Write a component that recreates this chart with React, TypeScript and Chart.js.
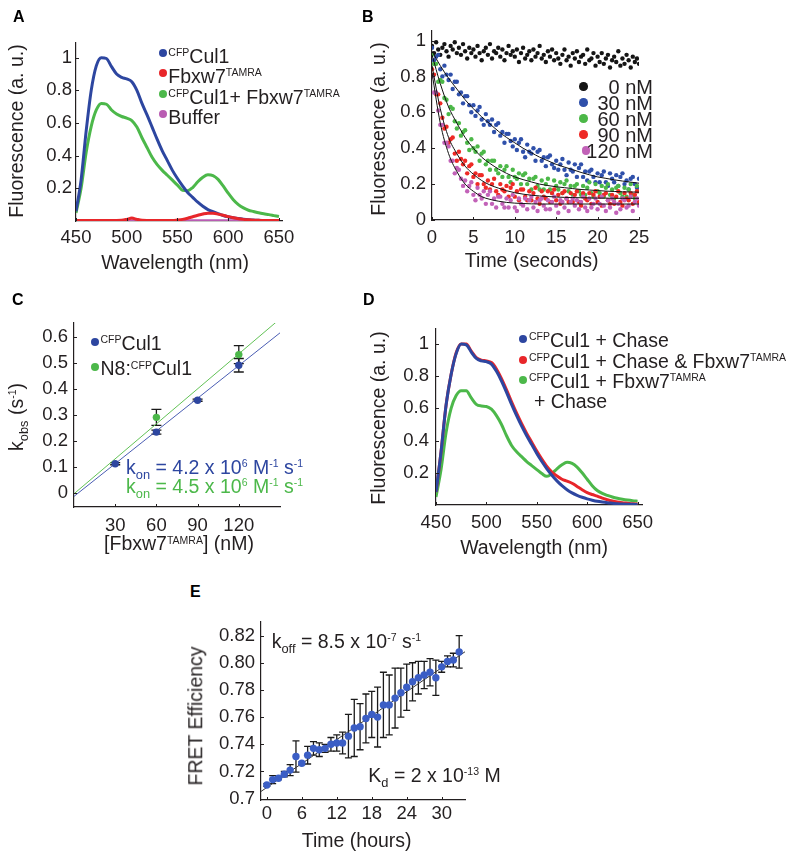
import React, { useEffect, useRef } from 'react';
import { Chart, registerables } from 'chart.js';

Chart.register(...registerables);

const FONT = '"Liberation Sans", Arial, Helvetica, sans-serif';
const INK = '#231f20';
Chart.defaults.font.family = FONT;
Chart.defaults.color = INK;

// ---------------- Panel A / D : emission spectra ----------------
const WAVELENGTH = [450,455,460,465,470,475,480,485,490,495,500,505,510,515,520,525,530,535,540,545,550,555,560,565,570,575,580,585,590,595,600,605,610,615,620,625,630,635,640,645,650];
const A_CFP_CUL1 = [0.06,0.25,0.55,0.80,0.95,1.0,0.995,0.945,0.90,0.88,0.87,0.853,0.80,0.72,0.65,0.575,0.50,0.43,0.37,0.31,0.26,0.215,0.175,0.145,0.115,0.09,0.07,0.057,0.045,0.034,0.026,0.02,0.015,0.011,0.008,0.006,0.004,0.003,0.002,0.001,0.0];
const A_FBXW7 = [0.003,0.003,0.003,0.003,0.003,0.003,0.003,0.003,0.003,0.004,0.01,0.018,0.01,0.004,0.003,0.003,0.003,0.003,0.003,0.003,0.006,0.01,0.017,0.026,0.035,0.043,0.048,0.047,0.042,0.035,0.027,0.02,0.014,0.01,0.007,0.005,0.004,0.003,0.003,0.003,0.003];
const A_CUL1_FBXW7 = [0.05,0.20,0.42,0.58,0.68,0.72,0.715,0.68,0.655,0.64,0.63,0.615,0.575,0.51,0.45,0.39,0.345,0.31,0.28,0.25,0.22,0.188,0.186,0.205,0.24,0.268,0.283,0.278,0.255,0.215,0.17,0.13,0.10,0.08,0.066,0.058,0.05,0.044,0.039,0.033,0.027];
const A_BUFFER = [0.001,0.001,0.001,0.001,0.001,0.001,0.001,0.001,0.001,0.001,0.001,0.001,0.001,0.001,0.001,0.001,0.001,0.001,0.001,0.001,0.001,0.001,0.001,0.001,0.001,0.001,0.001,0.001,0.001,0.001,0.001,0.001,0.001,0.001,0.001,0.001,0.001,0.001,0.001,0.001,0.001];

const D_CHASE = [0.08,0.33,0.62,0.81,0.94,1.0,0.995,0.95,0.91,0.895,0.89,0.875,0.83,0.77,0.70,0.625,0.555,0.49,0.43,0.375,0.32,0.27,0.225,0.185,0.15,0.12,0.095,0.075,0.06,0.048,0.038,0.03,0.023,0.018,0.014,0.011,0.008,0.006,0.005,0.004,0.003];
const D_CHASE_FBXW7 = [0.08,0.33,0.62,0.81,0.945,1.0,1.0,0.955,0.915,0.9,0.895,0.885,0.845,0.785,0.715,0.64,0.57,0.505,0.445,0.39,0.335,0.285,0.24,0.205,0.18,0.16,0.148,0.135,0.115,0.095,0.077,0.065,0.055,0.043,0.033,0.025,0.019,0.014,0.011,0.008,0.006];
const D_FBXW7_THEN_CHASE = [0.05,0.22,0.45,0.60,0.68,0.71,0.71,0.665,0.625,0.615,0.612,0.595,0.555,0.50,0.43,0.37,0.33,0.30,0.27,0.245,0.22,0.195,0.178,0.195,0.225,0.25,0.265,0.258,0.235,0.2,0.16,0.12,0.09,0.072,0.06,0.05,0.042,0.036,0.031,0.027,0.024];

const WL_TICKS = [450, 500, 550, 600, 650];
const WL_LABELS = ['450', '500', '550', '600', '650'];
const FL_TICKS = [0.2, 0.4, 0.6, 0.8, 1];
const FL_LABELS = ['0.2', '0.4', '0.6', '0.8', '1'];

// ---------------- Panel B : stopped-flow traces ----------------
const TIME_B = [0,0.25,0.5,0.75,1,1.25,1.5,1.75,2,2.25,2.5,2.75,3,3.25,3.5,3.75,4,4.25,4.5,4.75,5,5.25,5.5,5.75,6,6.25,6.5,6.75,7,7.25,7.5,7.75,8,8.25,8.5,8.75,9,9.25,9.5,9.75,10,10.25,10.5,10.75,11,11.25,11.5,11.75,12,12.25,12.5,12.75,13,13.25,13.5,13.75,14,14.25,14.5,14.75,15,15.25,15.5,15.75,16,16.25,16.5,16.75,17,17.25,17.5,17.75,18,18.25,18.5,18.75,19,19.25,19.5,19.75,20,20.25,20.5,20.75,21,21.25,21.5,21.75,22,22.25,22.5,22.75,23,23.25,23.5,23.75,24,24.25,24.5,24.75,25];
const B_0NM = [0.97,0.93,0.99,0.95,0.92,0.96,0.98,0.94,0.91,0.97,0.95,0.99,0.93,0.96,0.92,0.98,0.94,0.90,0.96,0.93,
  0.95,0.91,0.97,0.93,0.89,0.94,0.96,0.92,0.98,0.90,0.94,0.93,0.96,0.91,0.95,0.89,0.93,0.97,0.92,0.94,
  0.91,0.95,0.88,0.93,0.96,0.90,0.92,0.94,0.89,0.95,0.91,0.93,0.97,0.90,0.92,0.88,0.94,0.91,0.95,0.89,
  0.93,0.90,0.87,0.92,0.95,0.89,0.91,0.86,0.93,0.90,0.94,0.88,0.91,0.92,0.87,0.95,0.89,0.90,0.93,0.86,
  0.91,0.88,0.93,0.87,0.90,0.92,0.85,0.89,0.91,0.88,0.94,0.86,0.90,0.87,0.92,0.89,0.85,0.91,0.88,0.90,0.87];
const B_30NM = [0.96,0.89,0.91,0.92,0.84,0.80,0.86,0.81,0.78,0.81,0.73,0.77,0.77,0.70,0.71,0.65,0.69,0.69,0.64,0.60,
  0.64,0.58,0.61,0.63,0.56,0.53,0.59,0.55,0.53,0.56,0.49,0.53,0.54,0.47,0.49,0.43,0.48,0.48,0.44,0.41,
  0.45,0.39,0.43,0.45,0.38,0.35,0.42,0.38,0.37,0.40,0.33,0.38,0.39,0.33,0.35,0.30,0.35,0.36,0.31,0.29,
  0.33,0.28,0.31,0.34,0.28,0.25,0.32,0.28,0.27,0.31,0.24,0.29,0.31,0.24,0.27,0.22,0.27,0.28,0.24,0.21,
  0.26,0.21,0.25,0.27,0.21,0.19,0.26,0.23,0.21,0.25,0.19,0.24,0.26,0.20,0.22,0.17,0.23,0.24,0.20,0.18,0.23];
const B_60NM = [0.92,0.87,0.87,0.77,0.78,0.77,0.68,0.67,0.59,0.63,0.62,0.55,0.51,0.54,0.47,0.49,0.50,0.43,0.39,0.45,
  0.40,0.38,0.41,0.33,0.37,0.38,0.31,0.33,0.28,0.33,0.33,0.28,0.26,0.30,0.24,0.28,0.30,0.24,0.21,0.28,
  0.24,0.23,0.26,0.20,0.25,0.26,0.20,0.23,0.17,0.23,0.24,0.19,0.17,0.22,0.17,0.20,0.23,0.17,0.15,0.22,
  0.19,0.17,0.21,0.15,0.20,0.22,0.16,0.19,0.14,0.19,0.20,0.16,0.14,0.19,0.14,0.18,0.21,0.15,0.13,0.20,
  0.16,0.15,0.19,0.13,0.18,0.20,0.14,0.17,0.12,0.18,0.19,0.15,0.13,0.18,0.13,0.17,0.20,0.14,0.12,0.19,0.16];
const B_90NM = [0.84,0.81,0.70,0.70,0.65,0.57,0.51,0.52,0.43,0.45,0.46,0.37,0.33,0.38,0.34,0.31,0.33,0.26,0.30,0.31,
  0.24,0.26,0.20,0.25,0.25,0.20,0.18,0.22,0.17,0.20,0.23,0.16,0.14,0.20,0.17,0.16,0.19,0.13,0.18,0.20,
  0.13,0.16,0.11,0.17,0.17,0.13,0.11,0.16,0.11,0.15,0.18,0.12,0.09,0.16,0.13,0.12,0.16,0.10,0.15,0.17,
  0.11,0.14,0.09,0.15,0.16,0.12,0.10,0.15,0.10,0.14,0.16,0.10,0.08,0.15,0.12,0.11,0.15,0.09,0.14,0.16,
  0.10,0.13,0.08,0.14,0.15,0.11,0.09,0.14,0.09,0.13,0.16,0.10,0.08,0.15,0.12,0.11,0.15,0.09,0.14,0.16,0.10];
const B_120NM = [0.80,0.71,0.71,0.61,0.53,0.53,0.43,0.43,0.41,0.33,0.33,0.26,0.29,0.28,0.23,0.19,0.22,0.16,0.19,0.21,
  0.14,0.11,0.18,0.14,0.12,0.16,0.09,0.14,0.16,0.09,0.12,0.07,0.13,0.13,0.09,0.07,0.12,0.07,0.11,0.14,
  0.07,0.05,0.12,0.09,0.08,0.12,0.06,0.11,0.13,0.07,0.10,0.05,0.11,0.12,0.08,0.06,0.11,0.06,0.10,0.13,
  0.08,0.04,0.11,0.10,0.07,0.12,0.05,0.10,0.12,0.08,0.11,0.06,0.10,0.13,0.07,0.05,0.12,0.07,0.09,0.12,
  0.06,0.09,0.13,0.08,0.05,0.11,0.07,0.12,0.10,0.04,0.09,0.06,0.12,0.11,0.07,0.08,0.13,0.05,0.10,0.12,0.08];
const FIT_TIME_B = [0,1,2,3,4,5,6,7,8,9,10,11,12,13,14,15,16,17,18,19,20,21,22,23,24,25];
const B_FIT_30 = [0.94,0.86,0.79,0.73,0.67,0.62,0.575,0.535,0.495,0.46,0.43,0.40,0.375,0.35,0.33,0.31,0.295,0.28,0.265,0.252,0.24,0.232,0.224,0.217,0.211,0.205];
const B_FIT_60 = [0.92,0.76,0.63,0.54,0.46,0.40,0.35,0.315,0.285,0.26,0.24,0.225,0.212,0.2,0.192,0.185,0.18,0.175,0.17,0.167,0.164,0.161,0.159,0.157,0.156,0.155];
const B_FIT_90 = [0.86,0.62,0.46,0.37,0.30,0.255,0.22,0.195,0.178,0.163,0.152,0.144,0.138,0.134,0.131,0.128,0.126,0.125,0.124,0.123,0.122,0.122,0.121,0.121,0.121,0.121];
const B_FIT_120 = [0.82,0.54,0.37,0.27,0.20,0.16,0.13,0.115,0.105,0.098,0.094,0.092,0.09,0.089,0.089,0.089,0.089,0.089,0.089,0.089,0.089,0.089,0.089,0.089,0.089,0.089];
const B_X_TICKS = [0, 5, 10, 15, 20, 25];
const B_X_LABELS = ['0', '5', '10', '15', '20', '25'];
const B_Y_TICKS = [0, 0.2, 0.4, 0.6, 0.8, 1];
const B_Y_LABELS = ['0', '0.2', '0.4', '0.6', '0.8', '1'];

// ---------------- Panel C : kobs vs concentration ----------------
const C_CONC = [30, 60, 90, 120];
const C_KOBS_CUL1 = [0.112, 0.234, 0.357, 0.492];
const C_ERR_CUL1 = [0.004, 0.008, 0.004, 0.026];
const C_CONC_N8 = [60, 120];
const C_KOBS_N8 = [0.291, 0.533];
const C_ERR_N8 = [0.031, 0.035];
const C_FIT_X = [0, 150];
const C_FIT_CUL1 = [-0.014, 0.617];
const C_FIT_N8 = [-0.004, 0.671];
const C_X_TICKS = [30, 60, 90, 120];
const C_X_LABELS = ['30', '60', '90', '120'];
const C_Y_TICKS = [0, 0.1, 0.2, 0.3, 0.4, 0.5, 0.6];
const C_Y_LABELS = ['0', '0.1', '0.2', '0.3', '0.4', '0.5', '0.6'];

// ---------------- Panel E : FRET over time ----------------
const E_HOURS = [0,1,2,3,4,5,6,7,8,9,10,11,12,13,14,15,16,17,18,19,20,21,22,23,24,25,26,27,28,29,30,31,32,33];
const E_FRET = [0.710,0.714,0.715,0.718,0.721,0.731,0.726,0.732,0.737,0.736,0.737,0.740,0.741,0.741,0.746,0.752,0.753,0.759,0.762,0.760,0.769,0.769,0.774,0.778,0.782,0.786,0.789,0.791,0.793,0.789,0.797,0.801,0.802,0.808];
const E_ERR = [0.001,0.003,0.001,0.002,0.004,0.0115,0.001,0.0065,0.005,0.005,0.003,0.005,0.006,0.008,0.016,0.021,0.017,0.018,0.017,0.022,0.024,0.022,0.022,0.018,0.017,0.014,0.012,0.010,0.010,0.013,0.004,0.004,0.005,0.012];
const E_FIT_X = [-1, 34];
const E_FIT_Y = [0.7053, 0.8081];
const E_X_TICKS = [0, 6, 12, 18, 24, 30];
const E_X_LABELS = ['0', '6', '12', '18', '24', '30'];
const E_Y_TICKS = [0.7, 0.72, 0.74, 0.76, 0.78, 0.8, 0.82];
const E_Y_LABELS = ['0.7', '0.72', '0.74', '0.76', '0.78', '0.80', '0.82'];

// ---------------- colours ----------------
const BLUE = '#2d46a0';
const GREEN = '#4cb84a';
const RED = '#e8262a';
const MAGENTA = '#b95cb2';
const BLUE_E = '#3b5ec5';

const xy = (xs: number[], ys: number[]) => xs.map((x, i) => ({ x, y: ys[i] }));

const lineDs = (data: any[], color: string, width: number) => ({
  data, borderColor: color, backgroundColor: color, borderWidth: width,
  pointRadius: 0, fill: false, cubicInterpolationMode: 'monotone',
});
const dotDs = (data: any[], color: string, r: number) => ({
  data, showLine: false, pointRadius: r, pointBackgroundColor: color,
  pointBorderWidth: 0, borderColor: color, backgroundColor: color,
});

const inwardTicks = {
  id: 'inwardTicks',
  afterDatasetsDraw(chart: any) {
    const { ctx, chartArea: a, scales } = chart;
    ctx.save();
    ctx.strokeStyle = INK;
    ctx.lineWidth = 1;
    scales.x.ticks.forEach((t: any) => {
      const p = Math.round(scales.x.getPixelForValue(t.value)) + 0.5;
      ctx.beginPath(); ctx.moveTo(p, a.bottom); ctx.lineTo(p, a.bottom - 3); ctx.stroke();
    });
    scales.y.ticks.forEach((t: any) => {
      const p = Math.round(scales.y.getPixelForValue(t.value)) + 0.5;
      ctx.beginPath(); ctx.moveTo(a.left, p); ctx.lineTo(a.left + 3, p); ctx.stroke();
    });
    ctx.restore();
  },
};

function errorBars(id: string, sets: { xs: number[]; ys: number[]; errs: number[] }[], cap: number) {
  return {
    id,
    beforeDatasetsDraw(chart: any) {
      const { ctx, scales: { x, y } } = chart;
      ctx.save();
      ctx.strokeStyle = '#1a1a1a';
      ctx.lineWidth = 1.3;
      sets.forEach((s) => s.xs.forEach((xv, i) => {
        const px = x.getPixelForValue(xv);
        const top = y.getPixelForValue(s.ys[i] + s.errs[i]);
        const bot = y.getPixelForValue(s.ys[i] - s.errs[i]);
        ctx.beginPath();
        ctx.moveTo(px, top); ctx.lineTo(px, bot);
        ctx.moveTo(px - cap / 2, top); ctx.lineTo(px + cap / 2, top);
        ctx.moveTo(px - cap / 2, bot); ctx.lineTo(px + cap / 2, bot);
        ctx.stroke();
      }));
      ctx.restore();
    },
  };
}

const L = 60, T = 22, R = 26, B = 42;

function options(o: any) {
  const tickFont = { family: FONT, size: 18.5 };
  return {
    responsive: false,
    maintainAspectRatio: false,
    animation: false,
    events: [],
    layout: { padding: { left: 0, top: T, right: R, bottom: 0 } },
    plugins: { legend: { display: false }, tooltip: { enabled: false } },
    scales: {
      x: {
        type: 'linear', min: o.xMin, max: o.xMax, bounds: 'data',
        afterFit: (s: any) => { s.height = B; },
        afterBuildTicks: (s: any) => { s.ticks = o.xTicks.map((v: number) => ({ value: v })); },
        ticks: { autoSkip: false, maxRotation: 0, minRotation: 0, padding: o.xPad, color: INK, font: tickFont, callback: (_v: any, i: number) => o.xLabels[i] },
        grid: { display: false, drawTicks: false },
        border: { display: true, color: INK, width: 1.2 },
      },
      y: {
        type: 'linear', min: o.yMin, max: o.yMax, bounds: 'data',
        afterFit: (s: any) => { s.width = L; },
        afterBuildTicks: (s: any) => { s.ticks = o.yTicks.map((v: number) => ({ value: v })); },
        ticks: { autoSkip: false, padding: o.yPad, color: INK, font: tickFont, callback: (_v: any, i: number) => o.yLabels[i] },
        grid: { display: false, drawTicks: false },
        border: { display: true, color: INK, width: 1.2 },
      },
    },
  };
}

const buildA = () => ({
  type: 'line',
  data: {
    datasets: [
      lineDs(xy(WAVELENGTH, A_FBXW7), RED, 3),
      lineDs(xy(WAVELENGTH, A_BUFFER), MAGENTA, 3),
      lineDs(xy(WAVELENGTH, A_CFP_CUL1), BLUE, 3),
      lineDs(xy(WAVELENGTH, A_CUL1_FBXW7), GREEN, 3),
    ],
  },
  options: options({ xMin: 450, xMax: 653, yMin: 0, yMax: 1.09, xTicks: WL_TICKS, xLabels: WL_LABELS, yTicks: FL_TICKS, yLabels: FL_LABELS, xPad: 6, yPad: 4 }),
  plugins: [inwardTicks],
});

const buildB = () => ({
  type: 'line',
  data: {
    datasets: [
      lineDs(xy(FIT_TIME_B, B_FIT_30), '#111', 1),
      lineDs(xy(FIT_TIME_B, B_FIT_60), '#111', 1),
      lineDs(xy(FIT_TIME_B, B_FIT_90), '#111', 1),
      lineDs(xy(FIT_TIME_B, B_FIT_120), '#111', 1),
      dotDs(xy(TIME_B, B_120NM), '#c262b8', 2.2),
      dotDs(xy(TIME_B, B_90NM), '#ee2a26', 2.2),
      dotDs(xy(TIME_B, B_60NM), '#4cb848', 2.2),
      dotDs(xy(TIME_B, B_30NM), '#2f50aa', 2.2),
      dotDs(xy(TIME_B, B_0NM), '#151515', 2.2),
    ],
  },
  options: options({ xMin: 0, xMax: 25, yMin: 0, yMax: 1.053, xTicks: B_X_TICKS, xLabels: B_X_LABELS, yTicks: B_Y_TICKS, yLabels: B_Y_LABELS, xPad: 7, yPad: 6 }),
  plugins: [inwardTicks],
});

const buildC = () => ({
  type: 'line',
  data: {
    datasets: [
      dotDs(xy(C_CONC, C_KOBS_CUL1), BLUE, 3.7),
      dotDs(xy(C_CONC_N8, C_KOBS_N8), GREEN, 3.7),
      lineDs(xy(C_FIT_X, C_FIT_CUL1), '#4a5db3', 1),
      lineDs(xy(C_FIT_X, C_FIT_N8), '#62c256', 1),
    ],
  },
  options: options({ xMin: 0, xMax: 150, yMin: -0.055, yMax: 0.655, xTicks: C_X_TICKS, xLabels: C_X_LABELS, yTicks: C_Y_TICKS, yLabels: C_Y_LABELS, xPad: 8, yPad: 6 }),
  plugins: [inwardTicks, errorBars('errC', [
    { xs: C_CONC_N8, ys: C_KOBS_N8, errs: C_ERR_N8 },
    { xs: C_CONC, ys: C_KOBS_CUL1, errs: C_ERR_CUL1 },
  ], 10)],
});

const buildD = () => ({
  type: 'line',
  data: {
    datasets: [
      lineDs(xy(WAVELENGTH, D_CHASE), BLUE, 3),
      lineDs(xy(WAVELENGTH, D_CHASE_FBXW7), RED, 3),
      lineDs(xy(WAVELENGTH, D_FBXW7_THEN_CHASE), GREEN, 3),
    ],
  },
  options: options({ xMin: 450, xMax: 654.4, yMin: 0, yMax: 1.093, xTicks: WL_TICKS, xLabels: WL_LABELS, yTicks: FL_TICKS, yLabels: FL_LABELS, xPad: 7, yPad: 7 }),
  plugins: [inwardTicks],
});

const buildE = () => ({
  type: 'line',
  data: {
    datasets: [
      dotDs(xy(E_HOURS, E_FRET), BLUE_E, 3.7),
      lineDs(xy(E_FIT_X, E_FIT_Y), '#333', 1),
    ],
  },
  options: options({ xMin: -1, xMax: 34, yMin: 0.699, yMax: 0.83, xTicks: E_X_TICKS, xLabels: E_X_LABELS, yTicks: E_Y_TICKS, yLabels: E_Y_LABELS, xPad: 3, yPad: 6 }),
  plugins: [inwardTicks, errorBars('errE', [{ xs: E_HOURS, ys: E_FRET, errs: E_ERR }], 7)],
});

function ChartCanvas({ left, top, width, height, build }: any) {
  const ref = useRef<HTMLCanvasElement | null>(null);
  useEffect(() => {
    const chart = new Chart(ref.current as HTMLCanvasElement, build());
    return () => chart.destroy();
  }, []);
  return <canvas ref={ref} width={width} height={height} style={{ position: 'absolute', left, top, width, height }} />;
}

const TXT: React.CSSProperties = {
  position: 'absolute', fontFamily: FONT, fontSize: 19.5, lineHeight: 1, whiteSpace: 'nowrap', color: INK,
};
const Sup = ({ children }: any) => <span style={{ fontSize: '0.54em', position: 'relative', top: '-0.62em' }}>{children}</span>;
const Sub = ({ children }: any) => <span style={{ fontSize: '0.66em', position: 'relative', top: '0.38em' }}>{children}</span>;

const Letter = ({ x, y, children }: any) => (
  <div style={{ ...TXT, left: x, top: y, fontSize: 16, fontWeight: 'bold', color: '#000' }}>{children}</div>
);
const XTitle = ({ cx, top, children }: any) => (
  <div style={{ ...TXT, left: cx, top, transform: 'translateX(-50%)' }}>{children}</div>
);
const YTitle = ({ cx, cy, children }: any) => (
  <div style={{ ...TXT, left: cx, top: cy, transform: 'translate(-50%, -50%) rotate(-90deg)' }}>{children}</div>
);
const Dot = ({ x, y, r, color }: any) => (
  <div style={{ position: 'absolute', left: x - r, top: y - r, width: 2 * r, height: 2 * r, borderRadius: '50%', background: color }} />
);
const Txt = ({ x, top, style, children }: any) => (
  <div style={{ ...TXT, left: x, top, ...style }}>{children}</div>
);

export default function App() {
  return (
    <div style={{ position: 'absolute', left: 0, top: 0, width: 800, height: 862, background: '#fff', overflow: 'hidden' }}>
      <ChartCanvas left={16} top={21} width={292} height={242} build={buildA} />
      <ChartCanvas left={372} top={9} width={293} height={253} build={buildB} />
      <ChartCanvas left={14} top={301} width={292} height={248} build={buildC} />
      <ChartCanvas left={376} top={307} width={292} height={240} build={buildD} />
      <ChartCanvas left={201} top={600} width={290} height={242} build={buildE} />

      {/* Panel A */}
      <Letter x={13} y={9.2}>A</Letter>
      <YTitle cx={16.7} cy={130.5}>Fluorescence (a. u.)</YTitle>
      <XTitle cx={175} top={252.5}>Wavelength (nm)</XTitle>
      <Dot x={163.2} y={52.7} r={4.2} color={BLUE} />
      <Dot x={163.2} y={73.3} r={4.2} color={RED} />
      <Dot x={163.2} y={94} r={4.2} color={GREEN} />
      <Dot x={163.2} y={114.3} r={4.2} color={MAGENTA} />
      <Txt x={168.3} top={46.8}><Sup>CFP</Sup>Cul1</Txt>
      <Txt x={168.3} top={66.8}>Fbxw7<Sup>TAMRA</Sup></Txt>
      <Txt x={168.3} top={87.5}><Sup>CFP</Sup>Cul1+ Fbxw7<Sup>TAMRA</Sup></Txt>
      <Txt x={168.3} top={107.5}>Buffer</Txt>

      {/* Panel B */}
      <Letter x={362} y={9.2}>B</Letter>
      <YTitle cx={379} cy={129}>Fluorescence (a. u.)</YTitle>
      <XTitle cx={531.7} top={250.8}>Time (seconds)</XTitle>
      <Dot x={583.5} y={86.7} r={4.3} color="#151515" />
      <Dot x={583.5} y={102.7} r={4.3} color="#2f50aa" />
      <Dot x={583.5} y={118.7} r={4.3} color="#4cb848" />
      <Dot x={583.5} y={134.7} r={4.3} color="#ee2a26" />
      <Dot x={586} y={150.7} r={4.3} color="#c262b8" />
      <Txt x={653} top={77.1} style={{ fontSize: 20, transform: 'translateX(-100%)' }}>0 nM</Txt>
      <Txt x={653} top={93.1} style={{ fontSize: 20, transform: 'translateX(-100%)' }}>30 nM</Txt>
      <Txt x={653} top={109.1} style={{ fontSize: 20, transform: 'translateX(-100%)' }}>60 nM</Txt>
      <Txt x={653} top={125.1} style={{ fontSize: 20, transform: 'translateX(-100%)' }}>90 nM</Txt>
      <Txt x={653} top={141.1} style={{ fontSize: 20, transform: 'translateX(-100%)' }}>120 nM</Txt>

      {/* Panel C */}
      <Letter x={12} y={291.5}>C</Letter>
      <YTitle cx={17} cy={416.5}>k<Sub>obs</Sub> (s<Sup>-1</Sup>)</YTitle>
      <XTitle cx={179} top={534.2}>[Fbxw7<Sup>TAMRA</Sup>] (nM)</XTitle>
      <Dot x={95} y={341.7} r={4.2} color={BLUE} />
      <Dot x={95} y={367} r={4.2} color={GREEN} />
      <Txt x={100.5} top={333.5}><Sup>CFP</Sup>Cul1</Txt>
      <Txt x={100.5} top={359.2}>N8:<Sup>CFP</Sup>Cul1</Txt>
      <Txt x={126} top={457.8} style={{ color: BLUE }}>k<Sub>on</Sub> = 4.2 x 10<Sup>6</Sup> M<Sup>-1</Sup> s<Sup>-1</Sup></Txt>
      <Txt x={126} top={476.8} style={{ color: GREEN }}>k<Sub>on</Sub> = 4.5 x 10<Sup>6</Sup> M<Sup>-1</Sup> s<Sup>-1</Sup></Txt>

      {/* Panel D */}
      <Letter x={363} y={291.5}>D</Letter>
      <YTitle cx={379} cy={417.5}>Fluorescence (a. u.)</YTitle>
      <XTitle cx={534} top={537.5}>Wavelength (nm)</XTitle>
      <Dot x={522.8} y={339.3} r={4.2} color={BLUE} />
      <Dot x={522.8} y={360} r={4.2} color={RED} />
      <Dot x={522.8} y={380} r={4.2} color={GREEN} />
      <Txt x={529} top={330.8}><Sup>CFP</Sup>Cul1 + Chase</Txt>
      <Txt x={529} top={351.5}><Sup>CFP</Sup>Cul1 + Chase &amp; Fbxw7<Sup>TAMRA</Sup></Txt>
      <Txt x={529} top={371.8}><Sup>CFP</Sup>Cul1 + Fbxw7<Sup>TAMRA</Sup></Txt>
      <Txt x={534} top={392.1}>+ Chase</Txt>

      {/* Panel E */}
      <Letter x={190} y={583.5}>E</Letter>
      <YTitle cx={196} cy={715.8}>FRET Efficiency</YTitle>
      <XTitle cx={356.7} top={830.5}>Time (hours)</XTitle>
      <Txt x={271.7} top={631.8}>k<Sub>off</Sub> = 8.5 x 10<Sup>-7</Sup> s<Sup>-1</Sup></Txt>
      <Txt x={368.3} top={765.8}>K<Sub>d</Sub> = 2 x 10<Sup>-13</Sup> M</Txt>
    </div>
  );
}
